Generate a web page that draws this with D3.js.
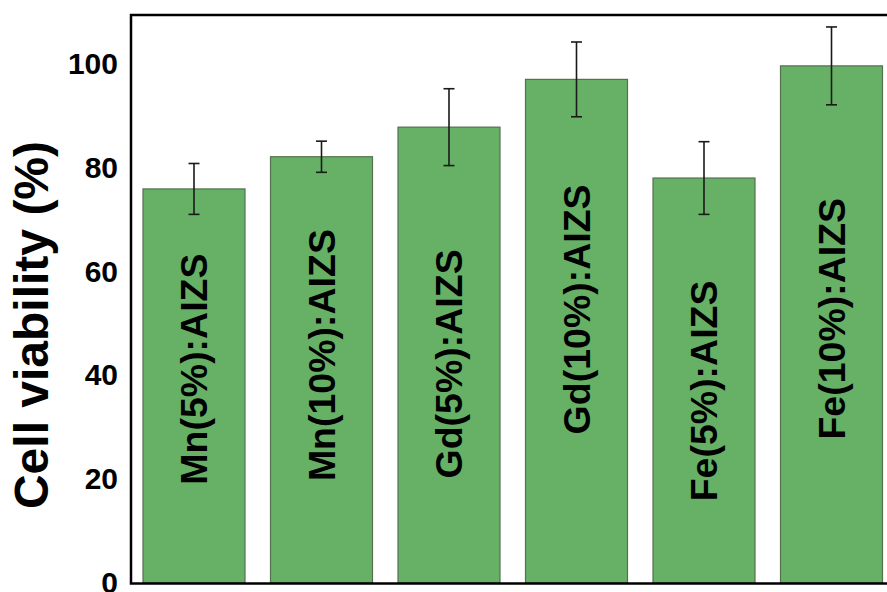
<!DOCTYPE html>
<html>
<head>
<meta charset="utf-8">
<script src="https://cdn.jsdelivr.net/npm/d3@7"></script>
<style>
  html, body { margin: 0; padding: 0; background: #fff; }
  svg { display: block; font-family: Arial, "Liberation Sans", sans-serif; }
</style>
</head>
<body>
<svg id="chart" width="887" height="592"></svg>
<script>
// ---- data ----
const categories = ["Mn(5%):AIZS", "Mn(10%):AIZS", "Gd(5%):AIZS", "Gd(10%):AIZS", "Fe(5%):AIZS", "Fe(10%):AIZS"];
const viability  = [75.9, 82.1, 87.8, 97.0, 78.0, 99.6];
const errors     = [4.9, 3.0, 7.4, 7.2, 7.0, 7.5];
const yTicks     = [0, 20, 40, 60, 80, 100];
const yTitle     = "Cell viability (%)";

// ---- layout ----
const plotLeft = 131, plotTop = 15, plotBottom = 583.5, plotRight = 895;
// vertical centre of each rotated label (in data units)
const labelMid = [41.2, 43.9, 42.2, 52.7, 37.0, 50.9];

const svg = d3.select("#chart");

const x = d3.scaleBand()
  .domain(categories)
  .range([130.25, 895.25])
  .paddingInner(0.2)
  .paddingOuter(0.1);

const y = d3.scaleLinear()
  .domain([0, 109.4])
  .range([583, 15]);

// bars
svg.append("g").selectAll("rect")
  .data(categories)
  .join("rect")
  .attr("x", d => x(d))
  .attr("y", (d, i) => y(viability[i]))
  .attr("width", x.bandwidth())
  .attr("height", (d, i) => y(0) - y(viability[i]))
  .attr("fill", "#66b166")
  .attr("stroke", "#54704f")
  .attr("stroke-width", 1.2);

// error bars
const eb = svg.append("g").attr("stroke", "#1a1a1a").attr("stroke-width", 1.6);
categories.forEach((c, i) => {
  const cx = x(c) + x.bandwidth() / 2;
  const top = y(viability[i] + errors[i]);
  const bot = y(viability[i] - errors[i]);
  eb.append("line").attr("x1", cx).attr("x2", cx).attr("y1", top).attr("y2", bot);
  eb.append("line").attr("x1", cx - 5.5).attr("x2", cx + 5.5).attr("y1", top).attr("y2", top);
  eb.append("line").attr("x1", cx - 5.5).attr("x2", cx + 5.5).attr("y1", bot).attr("y2", bot);
});

// rotated labels inside bars
svg.append("g").selectAll("text")
  .data(categories)
  .join("text")
  .attr("transform", (d, i) => `translate(${x(d) + x.bandwidth() / 2},${y(labelMid[i])}) rotate(-90)`)
  .attr("text-anchor", "middle")
  .attr("dominant-baseline", "central")
  .attr("font-size", 37.5)
  .attr("font-weight", "bold")
  .attr("fill", "#000")
  .text(d => d);

// y axis (labels only)
const yAxis = d3.axisLeft(y).tickValues(yTicks).tickSize(0).tickPadding(13).tickFormat(d3.format("d"));
const ga = svg.append("g").attr("transform", `translate(${plotLeft},0)`).call(yAxis);
ga.select(".domain").remove();
ga.selectAll("text")
  .attr("font-size", 30)
  .attr("font-weight", "bold")
  .attr("font-family", "Arial, 'Liberation Sans', sans-serif")
  .attr("fill", "#000");

// frame
svg.append("rect")
  .attr("x", plotLeft)
  .attr("y", plotTop)
  .attr("width", plotRight - plotLeft)
  .attr("height", plotBottom - plotTop)
  .attr("fill", "none")
  .attr("stroke", "#000")
  .attr("stroke-width", 2.5);

// y title
svg.append("text")
  .attr("transform", `translate(31,325) rotate(-90)`)
  .attr("text-anchor", "middle")
  .attr("dominant-baseline", "central")
  .attr("font-size", 48)
  .attr("font-weight", "bold")
  .attr("fill", "#000")
  .text(yTitle);
</script>
</body>
</html>
